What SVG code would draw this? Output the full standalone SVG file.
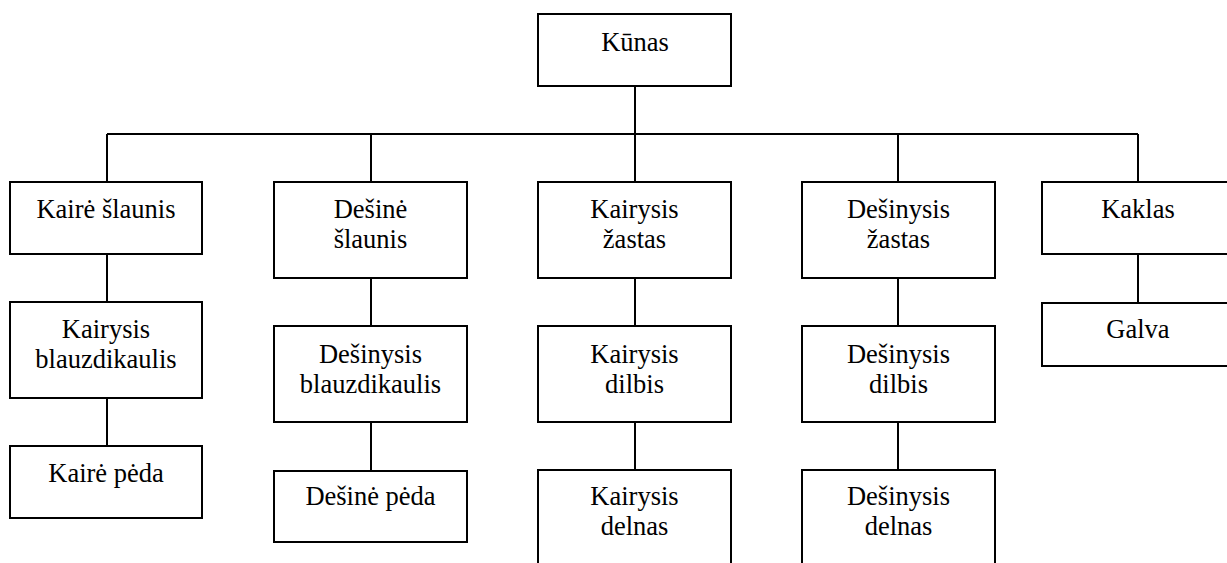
<svg xmlns="http://www.w3.org/2000/svg" width="1227" height="563" viewBox="0 0 1227 563">
  <style>
    .box { fill: #ffffff; stroke: #000000; stroke-width: 2; }
    .link { fill: none; stroke: #000000; stroke-width: 2; }
  </style>
  <rect width="1227" height="563" fill="#ffffff"/>

  <!-- connectors -->
  <g id="connectors">
    <path class="link" d="M635 86V134"/>
    <path class="link" d="M107 134H1138"/>
    <path class="link" d="M107 134V182M371 134V182M635 134V182M898 134V182M1138 134V182"/>
    <path class="link" d="M107 254V302M107 398V446"/>
    <path class="link" d="M371 278V326M371 422V471"/>
    <path class="link" d="M635 278V326M635 422V470"/>
    <path class="link" d="M898 278V326M898 422V470"/>
    <path class="link" d="M1138 254V303"/>
  </g>

  <g font-family="Liberation Serif, Times New Roman, serif" font-size="26.5" fill="#000000" text-anchor="middle">
  <!-- root -->
  <g id="kunas">
    <rect class="box" x="538" y="14" width="193" height="72"/>
    <text x="635" y="51">Kūnas</text>
  </g>

  <!-- column 1 -->
  <g id="kaire-slaunis">
    <rect class="box" x="10" y="182" width="192" height="72"/>
    <text x="106" y="218">Kairė šlaunis</text>
  </g>
  <g id="kairysis-blauzdikaulis">
    <rect class="box" x="10" y="302" width="192" height="96"/>
    <text x="106" y="338">Kairysis</text>
    <text x="106" y="368">blauzdikaulis</text>
  </g>
  <g id="kaire-peda">
    <rect class="box" x="10" y="446" width="192" height="72"/>
    <text x="106" y="482">Kairė pėda</text>
  </g>

  <!-- column 2 -->
  <g id="desine-slaunis">
    <rect class="box" x="274" y="182" width="193" height="96"/>
    <text x="370.5" y="218">Dešinė</text>
    <text x="370.5" y="248">šlaunis</text>
  </g>
  <g id="desinysis-blauzdikaulis">
    <rect class="box" x="274" y="326" width="193" height="96"/>
    <text x="370.5" y="363">Dešinysis</text>
    <text x="370.5" y="393">blauzdikaulis</text>
  </g>
  <g id="desine-peda">
    <rect class="box" x="274" y="471" width="193" height="71"/>
    <text x="370.5" y="505">Dešinė pėda</text>
  </g>

  <!-- column 3 -->
  <g id="kairysis-zastas">
    <rect class="box" x="538" y="182" width="193" height="96"/>
    <text x="634.5" y="218">Kairysis</text>
    <text x="634.5" y="248">žastas</text>
  </g>
  <g id="kairysis-dilbis">
    <rect class="box" x="538" y="326" width="193" height="96"/>
    <text x="634.5" y="363">Kairysis</text>
    <text x="634.5" y="393">dilbis</text>
  </g>
  <g id="kairysis-delnas">
    <rect class="box" x="538" y="470" width="193" height="100"/>
    <text x="634.5" y="505">Kairysis</text>
    <text x="634.5" y="535">delnas</text>
  </g>

  <!-- column 4 -->
  <g id="desinysis-zastas">
    <rect class="box" x="802" y="182" width="193" height="96"/>
    <text x="898.5" y="218">Dešinysis</text>
    <text x="898.5" y="248">žastas</text>
  </g>
  <g id="desinysis-dilbis">
    <rect class="box" x="802" y="326" width="193" height="96"/>
    <text x="898.5" y="363">Dešinysis</text>
    <text x="898.5" y="393">dilbis</text>
  </g>
  <g id="desinysis-delnas">
    <rect class="box" x="802" y="470" width="193" height="100"/>
    <text x="898.5" y="505">Dešinysis</text>
    <text x="898.5" y="535">delnas</text>
  </g>

  <!-- column 5 -->
  <g id="kaklas">
    <rect class="box" x="1042" y="182" width="193" height="72"/>
    <text x="1138" y="218">Kaklas</text>
  </g>
  <g id="galva">
    <rect class="box" x="1042" y="303" width="193" height="63"/>
    <text x="1138" y="338">Galva</text>
  </g>
  </g>
</svg>
